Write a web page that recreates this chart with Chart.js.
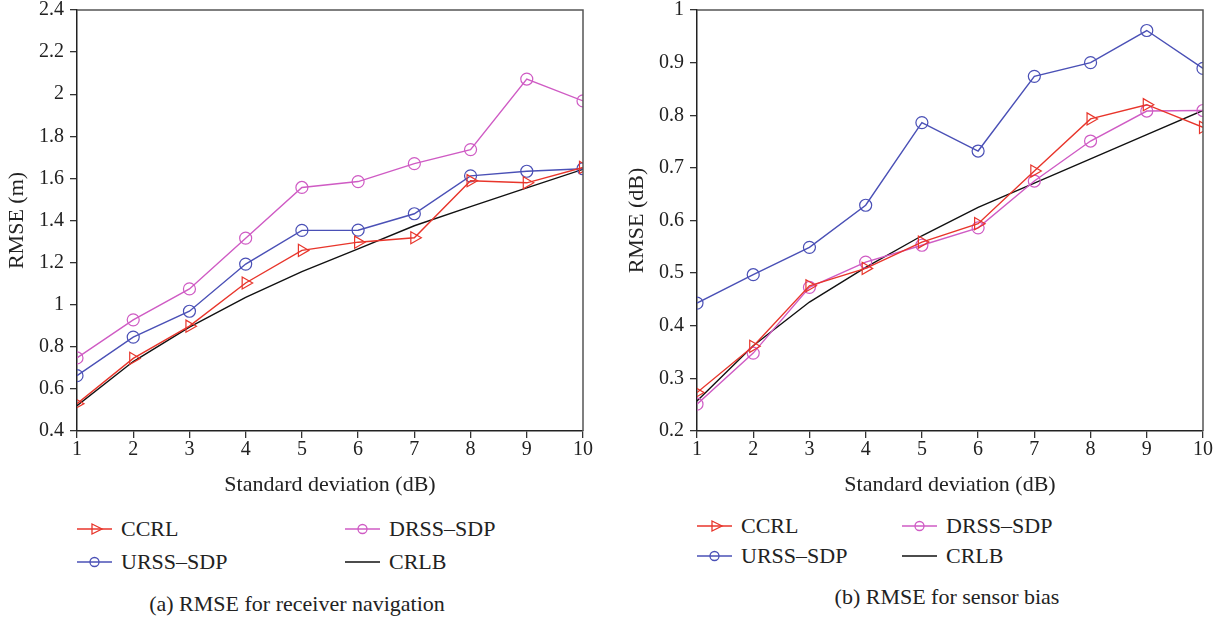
<!DOCTYPE html>
<html>
<head>
<meta charset="utf-8">
<script src="https://cdn.jsdelivr.net/npm/chart.js@4.4.1/dist/chart.umd.min.js"></script>
<style>
  body { margin: 0; width: 1222px; height: 620px; background: #fff; position: relative; overflow: hidden;
         font-family: 'Liberation Serif', 'Times New Roman', serif; color: #222; }
  .panel { position: absolute; top: 0; width: 600px; height: 620px; }
  .panel canvas { position: absolute; left: 0; top: -8px; }
  .legend-item { position: absolute; height: 26px; display: flex; align-items: center; font-size: 22px; white-space: nowrap; }
  .legend-item svg { margin-right: 9px; }
  .caption { position: absolute; font-size: 22px; white-space: nowrap; transform: translateX(-50%); }
</style>
</head>
<body>
<div class="panel" id="panelA" style="left:0">
  <canvas id="chartA" width="600" height="508"></canvas>
  <div class="caption" style="left:297px; top:591px">(a) RMSE for receiver navigation</div>
</div>
<div class="panel" id="panelB" style="left:620px">
  <canvas id="chartB" width="600" height="508"></canvas>
  <div class="caption" style="left:327px; top:584px">(b) RMSE for sensor bias</div>
</div>
<script>
// standard deviation (dB)
const xValues = [1, 2, 3, 4, 5, 6, 7, 8, 9, 10];
const seriesNames = ['CCRL', 'URSS\u2013SDP', 'DRSS\u2013SDP', 'CRLB'];

// (a) RMSE for receiver navigation (m)
const navCCRL = [0.53, 0.745, 0.898, 1.103, 1.258, 1.297, 1.318, 1.589, 1.579, 1.652];
const navURSS = [0.663, 0.846, 0.969, 1.193, 1.353, 1.354, 1.432, 1.612, 1.634, 1.646];
const navDRSS = [0.747, 0.928, 1.075, 1.316, 1.557, 1.585, 1.670, 1.737, 2.072, 1.968];
const navCRLB = [0.52, 0.73, 0.893, 1.035, 1.157, 1.265, 1.375, 1.466, 1.555, 1.643];

// (b) RMSE for sensor bias (dB)
const biasCCRL = [0.273, 0.361, 0.476, 0.509, 0.559, 0.594, 0.694, 0.793, 0.820, 0.777];
const biasURSS = [0.443, 0.497, 0.549, 0.629, 0.786, 0.732, 0.874, 0.900, 0.961, 0.889];
const biasDRSS = [0.251, 0.348, 0.473, 0.521, 0.553, 0.586, 0.675, 0.751, 0.808, 0.809];
const biasCRLB = [0.257, 0.362, 0.445, 0.511, 0.571, 0.625, 0.671, 0.717, 0.763, 0.809];

const RED = '#e8352b';
const BLUE = '#4a50b6';
const MAGENTA = '#cf5bc4';
const BLACK = '#111111';
const FONT = "'Liberation Serif', 'Times New Roman', serif";

function pts(values) {
    return values.map((v, i) => ({ x: xValues[i], y: v }));
}

function buildDatasets(ccrl, urss, drss, crlb) {
    return [
        { label: seriesNames[0], data: pts(ccrl), borderColor: RED, pointStyle: 'triangle', rotation: 90,
          pointRadius: 7, pointBorderWidth: 1.2 },
        { label: seriesNames[1], data: pts(urss), borderColor: BLUE, pointStyle: 'circle',
          pointRadius: 6, pointBorderWidth: 1.2 },
        { label: seriesNames[2], data: pts(drss), borderColor: MAGENTA, pointStyle: 'circle',
          pointRadius: 6, pointBorderWidth: 1.2 },
        { label: seriesNames[3], data: pts(crlb), borderColor: BLACK, pointRadius: 0 }
    ].map(d => Object.assign({
        borderWidth: 1.4,
        backgroundColor: 'rgba(0,0,0,0)',
        pointBackgroundColor: 'rgba(0,0,0,0)',
        pointBorderColor: d.borderColor,
        tension: 0
    }, d));
}

// top and right frame lines
const framePlugin = {
    id: 'frame',
    afterDraw(chart) {
        const { ctx, chartArea: a } = chart;
        ctx.save();
        ctx.strokeStyle = '#555';
        ctx.lineWidth = 1.5;
        ctx.beginPath();
        ctx.moveTo(a.left, a.top);
        ctx.lineTo(a.right, a.top);
        ctx.lineTo(a.right, a.bottom);
        ctx.stroke();
        ctx.restore();
    }
};

function tickText(value) {
    return String(Number(value.toFixed(2)));
}

function makeChart(id, datasets, yMin, yMax, yStep, yTitle) {
    const ctx = document.getElementById(id).getContext('2d');
    return new Chart(ctx, {
        type: 'line',
        data: { datasets: datasets },
        plugins: [framePlugin],
        options: {
            responsive: false,
            animation: false,
            devicePixelRatio: 1,
            layout: { padding: { top: 0, right: 17, left: 0, bottom: 0 } },
            plugins: { legend: { display: false }, tooltip: { enabled: false } },
            scales: {
                x: {
                    type: 'linear', min: 1, max: 10,
                    afterFit: s => { s.height = 69; },
                    ticks: { stepSize: 1, color: '#222', padding: 0, font: { family: FONT, size: 20 },
                             callback: tickText },
                    grid: { drawOnChartArea: false, drawTicks: true, tickLength: 7, color: '#333', lineWidth: 1.3 },
                    border: { display: true, color: '#222', width: 1.5 },
                    title: { display: true, text: 'Standard deviation (dB)', color: '#222',
                             padding: { top: 2, bottom: 2 }, font: { family: FONT, size: 22 } }
                },
                y: {
                    min: yMin, max: yMax,
                    afterFit: s => { s.width = 77; },
                    ticks: { stepSize: yStep, color: '#222', padding: 6, font: { family: FONT, size: 20 },
                             callback: tickText },
                    grid: { drawOnChartArea: false, drawTicks: true, tickLength: 7, color: '#333', lineWidth: 1.3 },
                    border: { display: true, color: '#222', width: 1.5 },
                    title: { display: true, text: yTitle, color: '#222',
                             padding: { top: 4, bottom: 0 }, font: { family: FONT, size: 22 } }
                }
            }
        }
    });
}

function legendIcon(color, marker) {
    let m = '';
    if (marker === 'triangle') {
        m = `<polygon points="15,4 25,9 15,14" fill="none" stroke="${color}" stroke-width="1.3"/>`;
    } else if (marker === 'circle') {
        m = `<circle cx="17.5" cy="9" r="4.5" fill="none" stroke="${color}" stroke-width="1.3"/>`;
    }
    return `<svg width="35" height="18" viewBox="0 0 35 18"><line x1="0" y1="9" x2="35" y2="9" stroke="${color}" stroke-width="1.4"/>${m}</svg>`;
}

function buildLegend(panelId, rowY, colX) {
    const panel = document.getElementById(panelId);
    const items = [
        { name: seriesNames[0], color: RED, marker: 'triangle', col: 0, row: 0 },
        { name: seriesNames[2], color: MAGENTA, marker: 'circle', col: 1, row: 0 },
        { name: seriesNames[1], color: BLUE, marker: 'circle', col: 0, row: 1 },
        { name: seriesNames[3], color: BLACK, marker: null, col: 1, row: 1 }
    ];
    items.forEach(it => {
        const div = document.createElement('div');
        div.className = 'legend-item';
        div.style.left = colX[it.col] + 'px';
        div.style.top = (rowY[it.row] - 13) + 'px';
        div.innerHTML = legendIcon(it.color, it.marker) + '<span>' + it.name + '</span>';
        panel.appendChild(div);
    });
}

makeChart('chartA', buildDatasets(navCCRL, navURSS, navDRSS, navCRLB), 0.4, 2.4, 0.2, 'RMSE (m)');
makeChart('chartB', buildDatasets(biasCCRL, biasURSS, biasDRSS, biasCRLB), 0.2, 1, 0.1, 'RMSE (dB)');
buildLegend('panelA', [529, 562], [77, 345]);
buildLegend('panelB', [526, 556], [77, 282]);
</script>
</body>
</html>
